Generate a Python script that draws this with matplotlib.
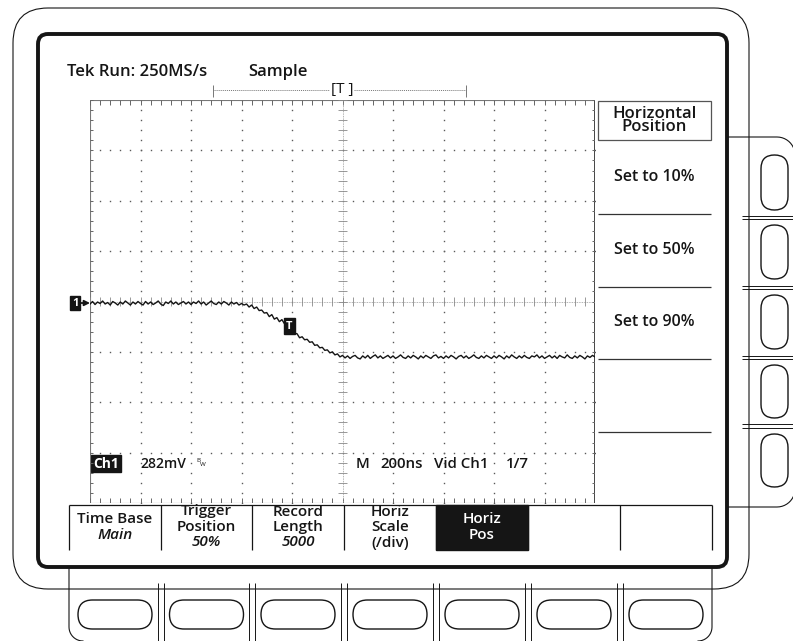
import numpy as np
import matplotlib.pyplot as plt
from matplotlib.patches import FancyBboxPatch, Rectangle

# Ch1 record, one sample every 10 ns, values in vertical divisions (282 mV/div)
trace_div = [
    -0.05, 0.00, -0.06, -0.01, -0.04, 0.01, -0.05, -0.02, -0.07, 0.00,
    -0.03, -0.07, -0.01, -0.05, 0.01, -0.03, -0.07, -0.01, -0.05, 0.00,
    -0.04, -0.07, 0.00, -0.05, -0.01, -0.06, -0.03, 0.01, -0.05, -0.08,
    -0.01, -0.04, 0.01, -0.05, -0.01, -0.06, -0.03, 0.00, -0.05, -0.01,
    -0.06, -0.01, -0.04, 0.01, -0.05, -0.01, -0.07, -0.03, 0.01, -0.04,
    -0.06, -0.01, -0.05, 0.00, -0.03, -0.07, -0.01, -0.05, -0.02, -0.07,
    -0.04, -0.07, -0.05, -0.11, -0.07, -0.14, -0.11, -0.18, -0.17, -0.23,
    -0.22, -0.30, -0.26, -0.35, -0.32, -0.40, -0.36, -0.44, -0.42, -0.49,
    -0.55, -0.63, -0.64, -0.72, -0.70, -0.76, -0.75, -0.81, -0.80, -0.87,
    -0.86, -0.92, -0.91, -0.97, -0.96, -1.02, -1.00, -1.06, -1.04, -1.10,
    -1.07, -1.12, -1.08, -1.13, -1.09, -1.07, -1.12, -1.14, -1.08, -1.12,
    -1.07, -1.13, -1.09, -1.06, -1.12, -1.08, -1.13, -1.10, -1.07, -1.12,
    -1.08, -1.13, -1.10, -1.06, -1.11, -1.13, -1.08, -1.12, -1.07, -1.10,
    -1.14, -1.08, -1.12, -1.07, -1.10, -1.13, -1.08, -1.06, -1.12, -1.09,
    -1.13, -1.08, -1.12, -1.07, -1.10, -1.14, -1.09, -1.07, -1.12, -1.08,
    -1.13, -1.10, -1.06, -1.11, -1.13, -1.08, -1.12, -1.07, -1.10, -1.13,
    -1.08, -1.12, -1.07, -1.10, -1.14, -1.08, -1.12, -1.06, -1.10, -1.13,
    -1.08, -1.12, -1.07, -1.11, -1.13, -1.08, -1.10, -1.06, -1.12, -1.08,
    -1.13, -1.10, -1.07, -1.12, -1.08, -1.13, -1.07, -1.10, -1.12, -1.06,
    -1.11, -1.13, -1.08, -1.12, -1.07, -1.10, -1.14, -1.08, -1.11, -1.07,
    -1.10,
]
sample_ns = 10
ns_per_div = 200
trigger_index = 79
ch1_level_div = -0.03

header_run = "Tek Run: 250MS/s"
header_mode = "Sample"
side_title = "Horizontal\nPosition"
side_items = ["Set to 10%", "Set to 50%", "Set to 90%"]
menu_titles = ["Time Base", "Trigger\nPosition", "Record\nLength", "Horiz\nScale", "Horiz\nPos", "", ""]
menu_values = ["Main", "50%", "5000", "(/div)", "", "", ""]
menu_selected = 4
readout_ch = "Ch1"
readout_volts = "282mV"
readout_time = ["M", "200ns", "Vid Ch1", "1/7"]

FONT = ['Open Sans', 'DejaVu Sans']
INK = '#151515'
GRID = '#5a5a5a'


def rounded_path(pts, r, n=12):
    # polyline; 2-tuples are points, 4-tuples are arcs (centre_x, centre_y, angle0, angle1)
    xs, ys = [], []
    for p in pts:
        if len(p) == 2:
            xs.append(p[0]); ys.append(p[1])
        else:
            cx, cy, a0, a1 = p
            t = np.radians(np.linspace(a0, a1, n))
            xs.extend(cx + r * np.cos(t)); ys.extend(cy + r * np.sin(t))
    return xs, ys


fig = plt.figure(figsize=(7.93, 6.41), dpi=100)
bg = fig.add_axes([0, 0, 1, 1])
bg.set_xlim(0, 793); bg.set_ylim(641, 0); bg.axis('off')

# bezel, side and bottom button panels
bg.add_patch(FancyBboxPatch((13, 8), 736, 581, boxstyle="round,pad=0,rounding_size=35",
                            fc='white', ec=INK, lw=0.8, zorder=1))
xs, ys = rounded_path([(728, 137), (777, 155, -90, 0), (777, 489, 0, 90), (728, 507)], 18)
bg.plot(xs, ys, color=INK, lw=0.8, zorder=2)
xs, ys = rounded_path([(69, 567), (83, 627, 180, 90)], 14)
bg.plot(xs, ys, color=INK, lw=0.8, zorder=2)
xs, ys = rounded_path([(712, 567), (698, 627, 0, 90)], 14)
bg.plot(xs, ys, color=INK, lw=0.8, zorder=2)
for y0, y1 in [(155, 210), (225, 279), (295, 349), (365, 418), (434, 487)]:
    bg.add_patch(FancyBboxPatch((761, y0), 27, y1 - y0, boxstyle="round,pad=0,rounding_size=13.5",
                                fc='white', ec=INK, lw=1.0, zorder=3))
for yc in [217.5, 287.5, 357.5, 426]:
    bg.hlines([yc - 1.6, yc + 1.6], 742, 793, color=INK, lw=0.7, zorder=2)
seps = [69, 161, 252, 344, 436, 528, 620, 712]
for xc in seps[1:-1]:
    bg.vlines([xc - 3, xc + 3], 583, 641, color=INK, lw=0.7, zorder=2)
for a, b in zip(seps[:-1], seps[1:]):
    c = (a + b) / 2
    bg.add_patch(FancyBboxPatch((c - 37, 600), 74, 29, boxstyle="round,pad=0,rounding_size=14.5",
                                fc='white', ec=INK, lw=1.0, zorder=3))

# screen frame
bg.add_patch(FancyBboxPatch((38, 34), 689, 533, boxstyle="round,pad=0,rounding_size=10",
                            fc='white', ec=INK, lw=2.8, zorder=4))

# header and record view bar
bg.text(67, 72, header_run, ha='left', va='center', fontsize=12, fontweight='semibold',
        family=FONT, color=INK, zorder=6)
bg.text(248, 72, header_mode, ha='left', va='center', fontsize=12, fontweight='semibold',
        family=FONT, color=INK, zorder=6)
bg.plot([213, 466], [90, 90], color='#777', lw=0.7, ls=(0, (1, 1)), zorder=5)
bg.vlines([213, 466], 85, 97, color='#777', lw=0.7, zorder=5)
bg.text(342, 90, "[T ]", ha='center', va='center', fontsize=11, family=FONT, color=INK, zorder=6,
        bbox=dict(boxstyle='square,pad=0.05', fc='white', ec='none'))

# side menu
bg.add_patch(Rectangle((598, 101), 113, 39, fill=False, ec='#555', lw=0.9, zorder=5))
bg.text(654.5, 120.5, side_title, ha='center', va='center', fontsize=12, fontweight='semibold',
        family=FONT, color=INK, linespacing=0.82, zorder=6)
for i, lab in enumerate(side_items):
    bg.text(654.5, 177 + 72.5 * i, lab, ha='center', va='center', fontsize=11.5,
            fontweight='semibold', family=FONT, color=INK, zorder=6)
bg.hlines([214, 287, 359, 432], 598, 711, color='#333', lw=0.9, zorder=5)

# bottom menu
bg.hlines(505, 69, 712, color=INK, lw=0.9, zorder=5)
bg.vlines(seps, 505, 550, color=INK, lw=0.9, zorder=5)
bg.add_patch(Rectangle((seps[menu_selected], 505), seps[menu_selected + 1] - seps[menu_selected], 45,
                       fc=INK, ec=INK, zorder=5))
for i, (title, val) in enumerate(zip(menu_titles, menu_values)):
    lines = [(t, 'normal') for t in title.split('\n') if t]
    if val:
        lines.append((val, 'normal' if val.startswith('(') else 'italic'))
    c = (seps[i] + seps[i + 1]) / 2
    col = 'white' if i == menu_selected else INK
    n = len(lines)
    for j, (t, st) in enumerate(lines):
        bg.text(c, 527 + (j - (n - 1) / 2) * 15.5, t, ha='center', va='center', fontsize=11,
                fontweight='semibold', family=FONT, style=st, color=col, zorder=6)

# readouts
bg.text(106, 463.5, readout_ch, ha='center', va='center', fontsize=10, fontweight='bold',
        family=FONT, color='white', zorder=6,
        bbox=dict(boxstyle='square,pad=0.12', fc=INK, ec=INK))
bg.text(140, 463.5, readout_volts, ha='left', va='center', fontsize=10, fontweight='semibold',
        family=FONT, color=INK, zorder=6)
bg.text(196, 460, "B", ha='left', va='center', fontsize=4.5, family=FONT, color=INK, zorder=6)
bg.text(199.5, 465, "W", ha='left', va='center', fontsize=4.5, family=FONT, color=INK, zorder=6)
for xt, t in zip([356, 380, 434, 506], readout_time):
    bg.text(xt, 463.5, t, ha='left', va='center', fontsize=10.8, fontweight='semibold',
            family=FONT, color=INK, zorder=6)

# graticule, 10 x 8 divisions
ax = fig.add_axes([90 / 793, 1 - 503 / 641, 505 / 793, 403 / 641])
ax.set_xlim(0, 10); ax.set_ylim(-4, 4); ax.axis('off')
ax.set_zorder(5)
mx = np.arange(0, 51) * 0.2
my = np.arange(0, 41) * 0.2 - 4
for k in [1, 2, 3, 4, 6, 7, 8, 9]:
    ax.plot(np.full(len(my), k), my, ls='none', marker='s', ms=1.0, mew=0, color=GRID)
for k in [-3, -2, -1, 1, 2, 3]:
    ax.plot(mx, np.full(len(mx), k), ls='none', marker='s', ms=1.0, mew=0, color=GRID)
ax.plot([0, 10, 10, 0, 0], [-4, -4, 4, 4, -4], color='#777', lw=0.8)
ax.plot([10, 10], [-4, 4], color=INK, lw=1.1)
ax.vlines(mx, 3.9, 4, color='#666', lw=0.7)
ax.vlines(mx, -4, -3.9, color='#666', lw=0.7)
ax.hlines(my, 0, 0.06, color='#666', lw=0.7)
ax.hlines(my, 9.94, 10, color='#666', lw=0.7)
ax.plot([5, 5], [-4, 4], color='#999', lw=0.6, ls=(0, (1, 1)))
ax.plot([0, 10], [0, 0], color='#999', lw=0.6, ls=(0, (1, 1)))
ax.hlines(my, 4.91, 5.09, color='#888', lw=0.6)
ax.vlines(mx, -0.09, 0.09, color='#888', lw=0.6)

# waveform
t_div = np.arange(len(trace_div)) * sample_ns / ns_per_div
ax.plot(t_div, trace_div, color=INK, lw=1.0, zorder=5)

# trigger point and channel level markers
ax.text(t_div[trigger_index], trace_div[trigger_index], "T", ha='center', va='center',
        fontsize=8, fontweight='bold', family=FONT, color='white', zorder=7,
        bbox=dict(boxstyle='square,pad=0.2', fc=INK, ec=INK))
ax.annotate('', xy=(0, ch1_level_div), xytext=(-0.22, ch1_level_div), annotation_clip=False,
            arrowprops=dict(arrowstyle='-|>', color=INK, lw=1.3, mutation_scale=8, shrinkA=0, shrinkB=0))
ax.text(-0.23, ch1_level_div, "1", ha='right', va='center', fontsize=8, fontweight='bold',
        family=FONT, color='white', clip_on=False, zorder=7,
        bbox=dict(boxstyle='square,pad=0.15', fc=INK, ec=INK))

fig.savefig("out.png", dpi=100)
